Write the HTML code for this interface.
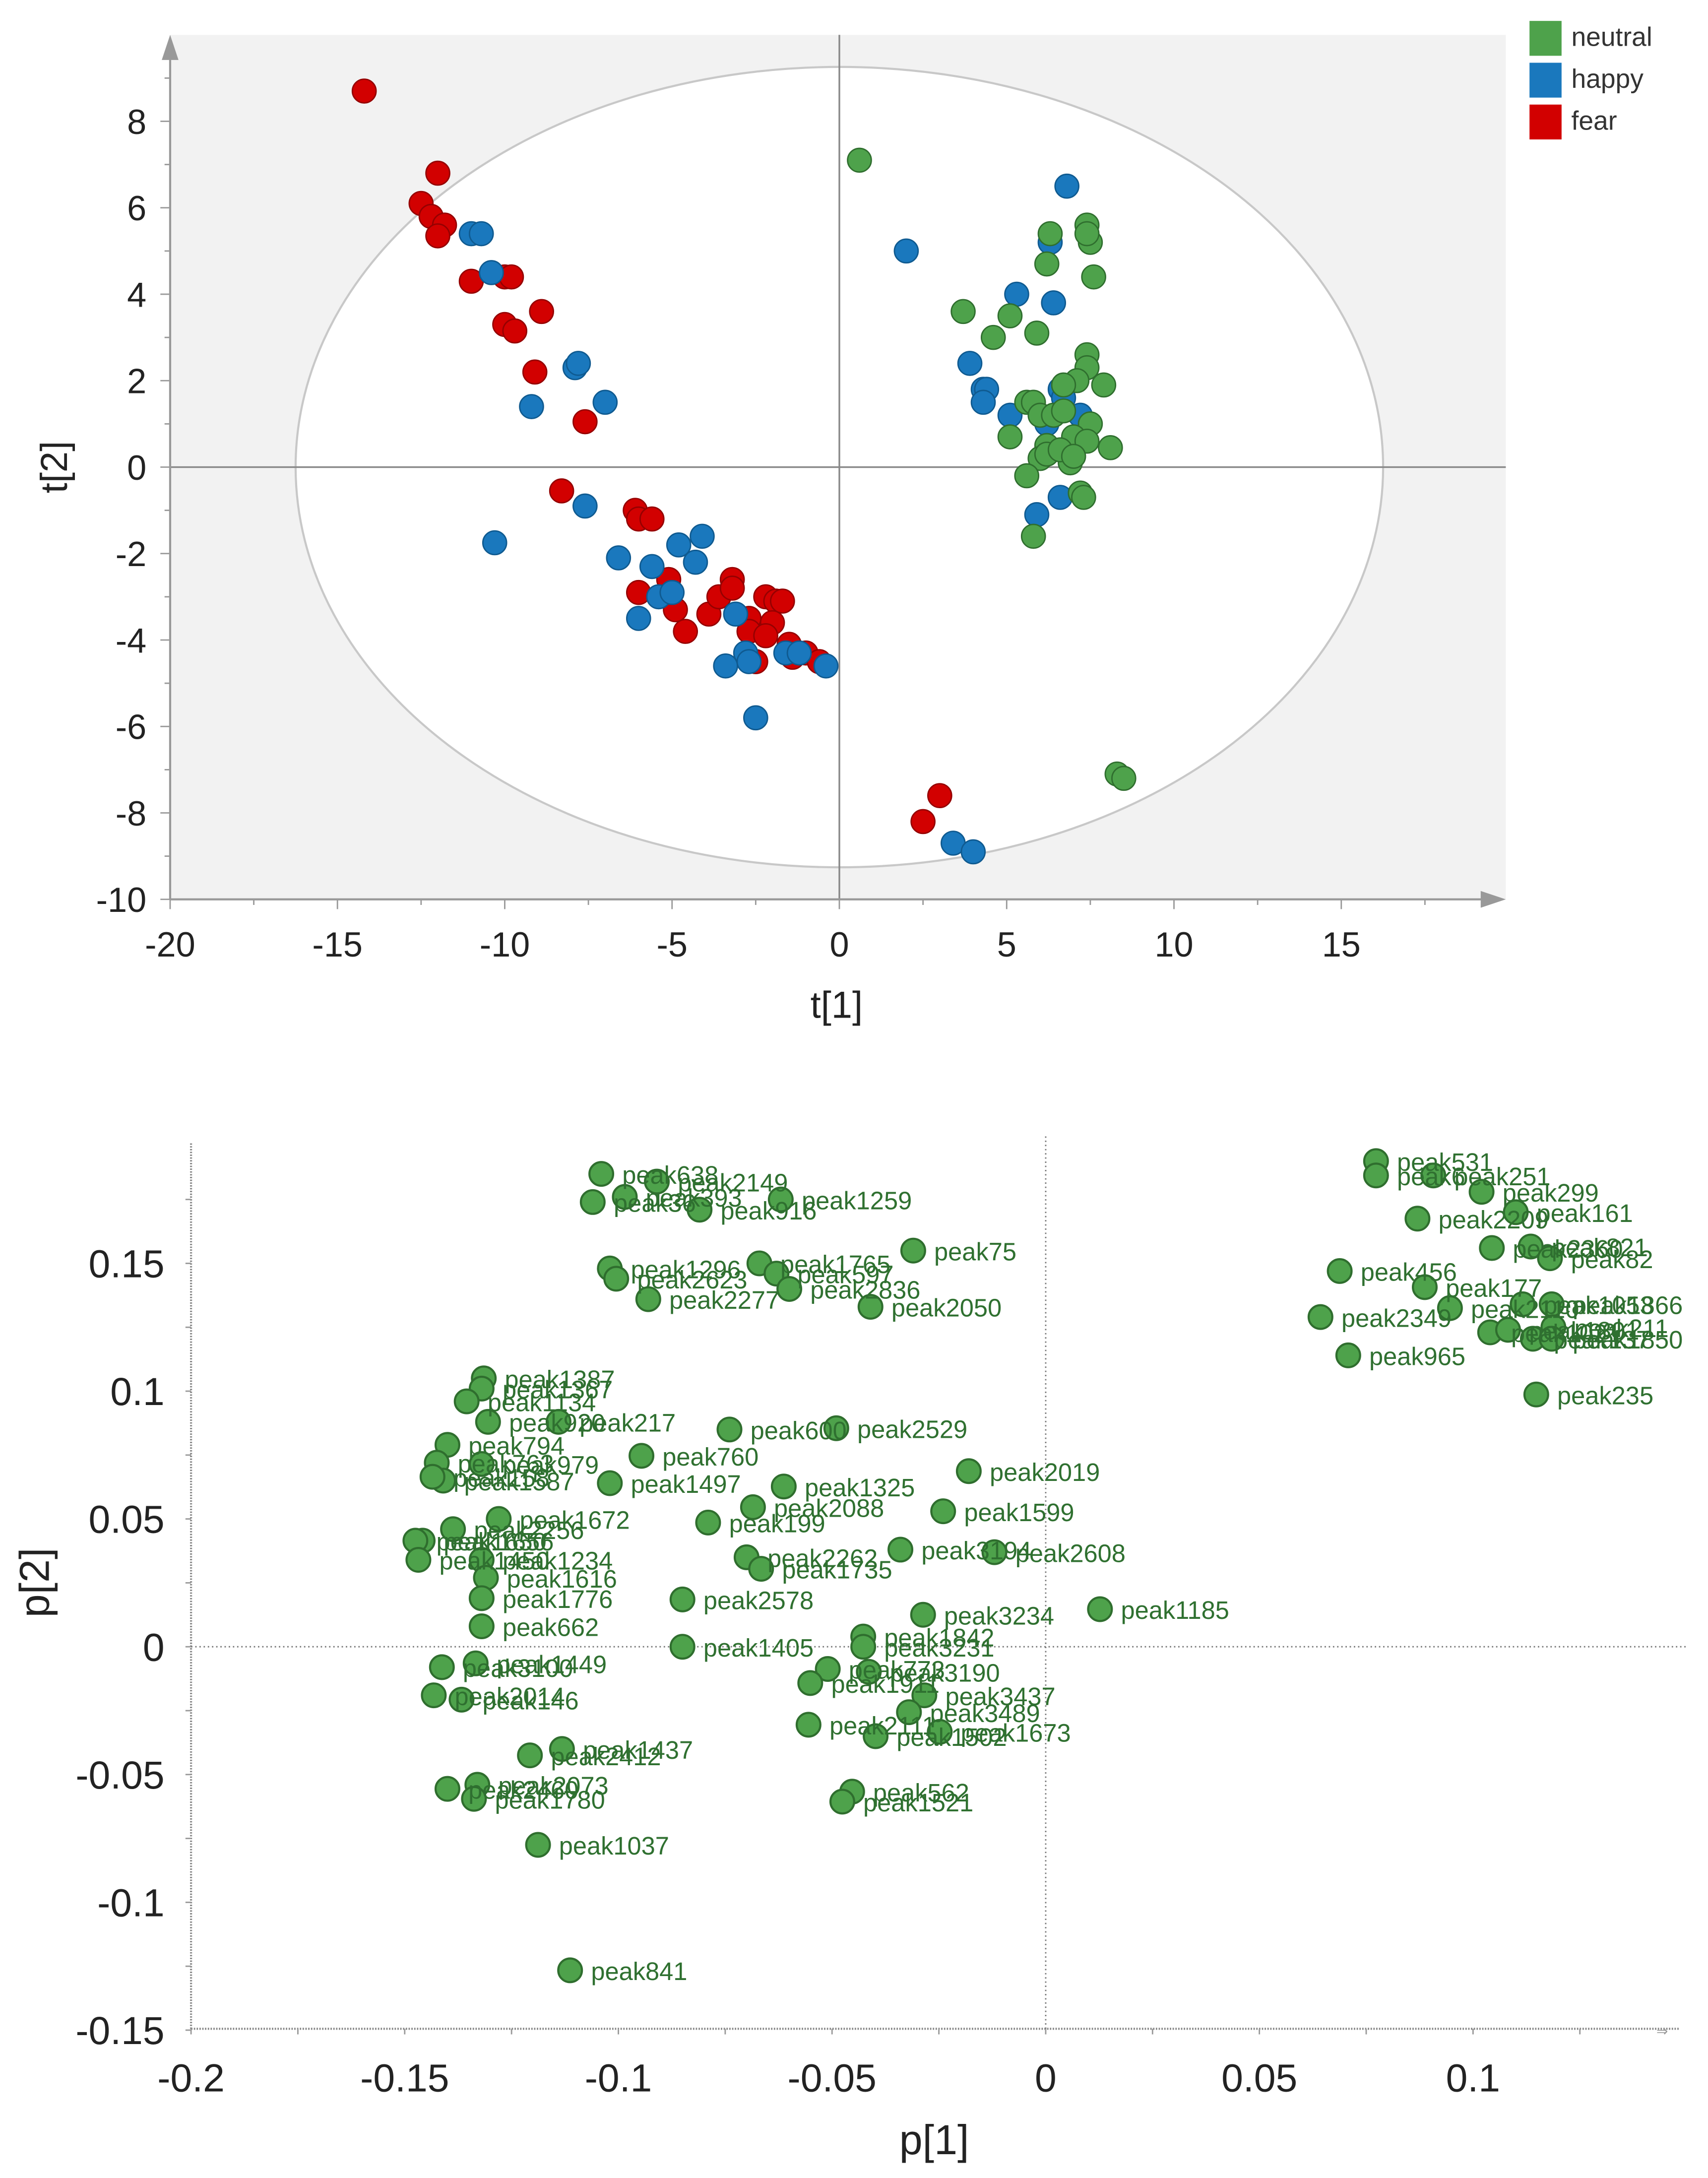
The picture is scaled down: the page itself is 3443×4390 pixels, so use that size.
<!DOCTYPE html>
<html><head><meta charset="utf-8">
<style>html,body{margin:0;padding:0;background:#fff}svg{display:block}text{font-family:"Liberation Sans",sans-serif}</style>
</head><body>
<svg id="fig" xmlns="http://www.w3.org/2000/svg" width="3443" height="4390" viewBox="0 0 1225 1562">
<g id="top"></g>
<g id="bot"></g>
</svg>
<script>
// ---- score plot data ----
const fearX=[-14.2,-12.5,-12,-12.2,-11.8,-12,-11,-10,-9.8,-10,-9.7,-8.9,-9.1,-7.6,-8.3,-6.1,-6,-5.6,-6,-5.1,-4.9,-4.6,-3.9,-3.6,-3.2,-3.2,-2.7,-2.7,-2.2,-1.9,-1.7,-2.0,-2.5,-2.2,-1.5,-1.0,-0.6,-1.4,2.5,3.0];
const fearY=[8.7,6.1,6.8,5.8,5.6,5.35,4.3,4.4,4.4,3.3,3.15,3.6,2.2,1.05,-0.55,-1.0,-1.2,-1.2,-2.9,-2.6,-3.3,-3.8,-3.4,-3.0,-2.6,-2.8,-3.5,-3.8,-3.0,-3.1,-3.1,-3.6,-4.5,-3.9,-4.1,-4.3,-4.5,-4.4,-8.2,-7.6];
const happyX=[-11,-10.7,-10.4,-7.9,-7.8,-9.2,-7.0,-7.6,-10.3,-6.6,-5.6,-4.8,-4.1,-4.3,-6,-5.4,-5.0,-3.1,-3.4,-2.8,-2.7,-2.5,-1.6,-1.2,-0.4,2.0,6.8,6.3,6.4,5.3,3.9,4.3,4.4,4.3,5.1,6.2,6.6,6.7,7.2,5.9,6.6,3.4,4.0];
const happyY=[5.4,5.4,4.5,2.3,2.4,1.4,1.5,-0.9,-1.75,-2.1,-2.3,-1.8,-1.6,-2.2,-3.5,-3.0,-2.9,-3.4,-4.6,-4.3,-4.5,-5.8,-4.3,-4.3,-4.6,5.0,6.5,5.2,3.8,4.0,2.4,1.8,1.8,1.5,1.2,1.0,1.8,1.6,1.2,-1.1,-0.7,-8.7,-8.9];
const neutralX=[0.6,6.3,7.4,7.5,7.4,6.2,7.6,3.7,5.1,4.6,5.9,7.4,7.4,7.1,7.9,6.7,5.6,5.8,6.0,6.4,7.5,5.1,6.2,7.0,7.4,8.1,6.0,6.2,6.9,6.6,7.0,5.6,7.2,7.3,5.8,8.3,8.5,6.7];
const neutralY=[7.1,5.4,5.6,5.2,5.4,4.7,4.4,3.6,3.5,3.0,3.1,2.6,2.3,2.0,1.9,1.9,1.5,1.5,1.2,1.2,1.0,0.7,0.5,0.7,0.6,0.45,0.2,0.3,0.1,0.4,0.25,-0.2,-0.6,-0.7,-1.6,-7.1,-7.2,1.3];
const tXTicks=[-20,-15,-10,-5,0,5,10,15];
const tYTicks=[8,6,4,2,0,-2,-4,-6,-8,-10];
const legendLabels=["neutral","happy","fear"];
// ---- loading plot data ----
const pNames=["peak638","peak2149","peak393","peak36","peak916","peak1259","peak75","peak1296","peak2623","peak2277","peak1765","peak597","peak2836","peak2050","peak1387","peak1367","peak1134","peak920","peak217","peak600","peak2529","peak794","peak979","peak763","peak1587","peak158","peak760","peak1497","peak1325","peak2019","peak2088","peak1599","peak199","peak1672","peak2256","peak1656","peak1650","peak1450","peak1234","peak1616","peak1776","peak662","peak2262","peak1735","peak3194","peak2608","peak2578","peak1185","peak3234","peak1842","peak3231","peak1405","peak1449","peak3100","peak2014","peak146","peak773","peak3190","peak1911","peak3437","peak2111","peak3489","peak1673","peak1502","peak1437","peak2412","peak2073","peak1780","peak2460","peak562","peak1521","peak1037","peak841","peak531","peak6","peak251","peak299","peak161","peak2209","peak821","peak2360","peak82","peak456","peak177","peak1866","peak1053","peak2110","peak2349","peak211","peak1021","peak137","peak1850","peak1801","peak965","peak235"];
const p1=[-0.104,-0.091,-0.0985,-0.106,-0.081,-0.062,-0.031,-0.102,-0.1005,-0.093,-0.067,-0.063,-0.060,-0.041,-0.1315,-0.132,-0.1355,-0.1305,-0.114,-0.074,-0.049,-0.140,-0.132,-0.1425,-0.141,-0.1435,-0.0946,-0.102,-0.0613,-0.018,-0.0685,-0.024,-0.079,-0.128,-0.1387,-0.1458,-0.1475,-0.1468,-0.132,-0.131,-0.132,-0.132,-0.070,-0.0666,-0.034,-0.012,-0.085,0.0127,-0.0287,-0.0427,-0.0427,-0.085,-0.1334,-0.1413,-0.1432,-0.1367,-0.051,-0.0414,-0.0551,-0.0284,-0.0555,-0.032,-0.0248,-0.0398,-0.1132,-0.1207,-0.133,-0.1338,-0.140,-0.0453,-0.0476,-0.1188,-0.1113,0.0773,0.0773,0.0907,0.102,0.110,0.087,0.1135,0.1044,0.118,0.0688,0.0887,0.1184,0.1116,0.0946,0.0643,0.1188,0.104,0.114,0.1184,0.1082,0.0708,0.1148];
const p2=[0.185,0.182,0.176,0.174,0.171,0.175,0.155,0.148,0.144,0.136,0.150,0.146,0.140,0.133,0.105,0.101,0.096,0.088,0.088,0.085,0.0855,0.079,0.0715,0.072,0.065,0.0665,0.0747,0.064,0.0627,0.0687,0.0546,0.053,0.0486,0.050,0.046,0.0415,0.0415,0.034,0.034,0.027,0.019,0.008,0.035,0.0305,0.038,0.037,0.0185,0.0147,0.0125,0.004,0.0,0.0,-0.0065,-0.008,-0.019,-0.0207,-0.0087,-0.0098,-0.0142,-0.019,-0.0305,-0.0256,-0.0333,-0.035,-0.040,-0.0425,-0.054,-0.0595,-0.0556,-0.0567,-0.0606,-0.0775,-0.1266,0.190,0.1844,0.1844,0.178,0.170,0.1675,0.1566,0.156,0.152,0.147,0.1407,0.134,0.134,0.1325,0.129,0.125,0.123,0.1205,0.1205,0.124,0.114,0.0987];
const pXTicks=[-0.2,-0.15,-0.1,-0.05,0,0.05,0.1];
const pYTicks=[0.15,0.1,0.05,0,-0.05,-0.1,-0.15];

const NS="http://www.w3.org/2000/svg";
function mk(parent,tag,attrs,txt){const e=document.createElementNS(NS,tag);for(const k in attrs)e.setAttribute(k,attrs[k]);if(txt!==undefined)e.textContent=txt;parent.appendChild(e);return e;}

// ---- top ----
const T=document.getElementById('top');
const tx=v=>602+v*24, ty=v=>335-v*31;
let bg=mk(T,'rect',{x:122,y:25,width:958,height:620,fill:'#f2f2f2'});


let el=mk(T,'ellipse',{cx:tx(0),cy:ty(0),rx:390,ry:287,fill:'#fff',stroke:'#c8c8c8','stroke-width':1.5});


mk(T,'line',{x1:tx(0),y1:48-23,x2:tx(0),y2:645,stroke:'#888','stroke-width':1.2});
mk(T,'line',{x1:122,y1:ty(0),x2:1080,y2:ty(0),stroke:'#888','stroke-width':1.2});
let xa=mk(T,'line',{x1:122,y1:645,x2:1072,y2:645,stroke:'#999','stroke-width':1.5});


mk(T,'polygon',{points:'1080,645 1062,639 1062,651',fill:'#999'});
let ya=mk(T,'line',{x1:122,y1:645,x2:122,y2:35,stroke:'#999','stroke-width':1.5});


mk(T,'polygon',{points:'122,25 116,43 128,43',fill:'#999'});
for(let v=-20;v<=19;v+=2.5){mk(T,'line',{x1:tx(v),y1:645,x2:tx(v),y2:Number.isInteger(v/5)?652:649,stroke:'#999'});}
for(let v=-10;v<=9;v+=1){mk(T,'line',{x1:122,y1:ty(v),x2:v%2===0?115:118,y2:ty(v),stroke:'#999'});}
tXTicks.forEach(v=>{const t=mk(T,'text',{x:tx(v),y:686,'font-size':25,'text-anchor':'middle',fill:'#222'},String(v));

});
tYTicks.forEach(v=>{const t=mk(T,'text',{x:105,y:ty(v)+9,'font-size':25,'text-anchor':'end',fill:'#222'},String(v));

});
let xt=mk(T,'text',{x:600,y:730,'font-size':27,'text-anchor':'middle',fill:'#222'},'t[1]');


let yt=mk(T,'text',{x:48,y:335,'font-size':27,'text-anchor':'middle',fill:'#222',transform:'rotate(-90 48 335)'},'t[2]');


const series=[[neutralX,neutralY,'#4ea24b','#2f6e2e','neutral-point'],[happyX,happyY,'#1a78bd','#0f5a90','happy-point'],[fearX,fearY,'#d20000','#950000','fear-point']];
// draw fear first then happy then neutral, roughly
[2,1,0].forEach(i=>{const s=series[i];s[0].forEach((x,j)=>{const c=mk(T,'circle',{cx:tx(x),cy:ty(s[1][j]),r:8.5,fill:s[2],stroke:s[3],'stroke-width':1});

});});
const legCol=['#4ea24b','#1a78bd','#d20000'];
legendLabels.forEach((l,i)=>{const g=mk(T,'g',{});


mk(g,'rect',{x:1097,y:15+i*30,width:23,height:25,fill:legCol[i]});
mk(g,'text',{x:1127,y:33+i*30,'font-size':19,fill:'#333'},l);});

// ---- bottom ----
const B=document.getElementById('bot');
const px=v=>750+v*3065, py=v=>1181-v*1833;
let lx=mk(B,'line',{x1:137,y1:1455,x2:1205,y2:1455,stroke:'#888','stroke-dasharray':'1,1','stroke-width':1.5});


let ly=mk(B,'line',{x1:137,y1:820,x2:137,y2:1455,stroke:'#888','stroke-dasharray':'1,1','stroke-width':1.5});


mk(B,'text',{x:1188,y:1460,'font-size':10,fill:'#999'},'⇒');
mk(B,'line',{x1:px(0),y1:815,x2:px(0),y2:1455,stroke:'#777','stroke-dasharray':'1,2'});
mk(B,'line',{x1:137,y1:py(0),x2:1210,y2:py(0),stroke:'#777','stroke-dasharray':'1,2'});
for(let v=-0.2;v<=0.14;v+=0.025){mk(B,'line',{x1:px(v),y1:1455,x2:px(v),y2:1459,stroke:'#999'});}
for(let v=-0.15;v<=0.19;v+=0.025){mk(B,'line',{x1:137,y1:py(v),x2:133,y2:py(v),stroke:'#999'});}
pXTicks.forEach(v=>{const t=mk(B,'text',{x:px(v),y:1500,'font-size':28,'text-anchor':'middle',fill:'#222'},String(v));

});
pYTicks.forEach(v=>{const t=mk(B,'text',{x:118,y:py(v)+10,'font-size':28,'text-anchor':'end',fill:'#222'},String(v));

});
let bx=mk(B,'text',{x:670,y:1545,'font-size':30,'text-anchor':'middle',fill:'#222'},'p[1]');


let by=mk(B,'text',{x:35,y:1135,'font-size':30,'text-anchor':'middle',fill:'#222',transform:'rotate(-90 35 1135)'},'p[2]');


p1.forEach((v,i)=>{const c=mk(B,'circle',{cx:px(v),cy:py(p2[i]),r:8.5,fill:'#4ea24b',stroke:'#2f6e2e','stroke-width':1.5});

});
p1.forEach((v,i)=>{const t=mk(B,'text',{x:px(v)+15,y:py(p2[i])+7,'font-size':18,fill:'#2f7030'},pNames[i]);

});
</script>
</body></html>
